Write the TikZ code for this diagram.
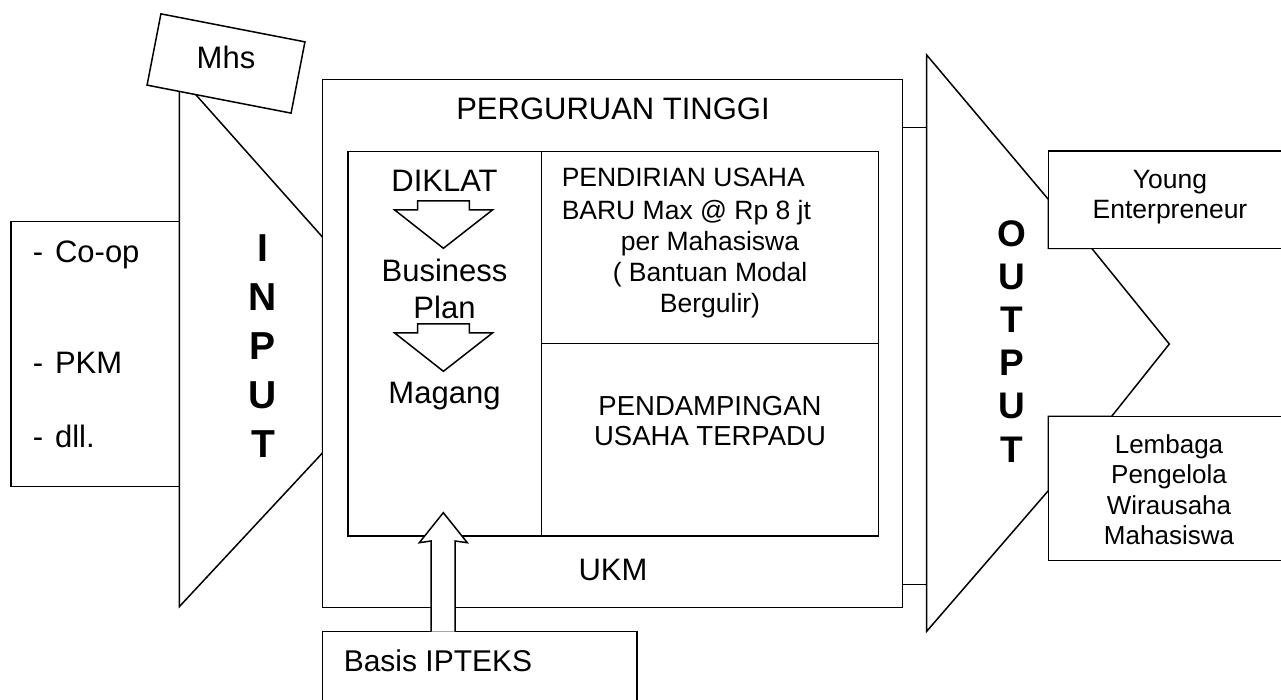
\documentclass[tikz,border=0pt]{standalone}
\usepackage{fontspec}
\setmainfont{Liberation Sans}
\begin{document}
\begin{tikzpicture}[x=0.5pt,y=-0.5pt,line width=0.75pt,
  box/.style={draw,fill=white,inner sep=0pt,outer sep=0pt},
  txt/.style 2 args={inner sep=0pt,align=center,font=\fontsize{#1}{#2}\selectfont},
  word/.style={txt={15.5}{18.35},anchor=base},
  big/.style 2 args={inner sep=0pt,align=center,anchor=north,font=\bfseries\fontsize{#1}{#2}\selectfont}]
\clip (0,0) rectangle (1281,700);
\node[box,minimum width=84.15pt,minimum height=132.5pt] (list) at (95.15,354.2) {};
\draw[fill=white] (179.3,90) -- (179.3,606.7) -- (322.7,452.7) -- (322.7,237.3) -- (194.3,93) -- cycle;
\node[box,minimum width=73.35pt,minimum height=36.3pt,rotate=-11] (mhsbox) at (226,63.5) {};
\node[word] (mhs) at (226,68.5) {Mhs};
\node[box,minimum width=290pt,minimum height=264.2pt] (pt) at (612.7,343.5) {};
\node[box,minimum width=265.15pt,minimum height=192.15pt] (inner) at (613.15,343.85) {};
\draw (541.7,151.7) -- (541.7,536) (541.7,343.3) -- (878.3,343.3);
\foreach \dy in {0,123}
  \draw[fill=white] (417.7,201+\dy) -- (469.4,201+\dy) -- (469.4,210+\dy) -- (492.4,210+\dy)
    -- (443.4,248.3+\dy) -- (394.7,210+\dy) -- (417.7,210+\dy) -- cycle;
\node[box,minimum width=157.15pt,minimum height=44.3pt] (basis) at (479.85,676) {};
\draw[fill=white] (431,631.7) -- (431,541) -- (419.3,542.7) -- (443.3,512.7) -- (467.3,542.7) -- (455,541) -- (455,631.7);
\coordinate (outa) at (926.7,127.7);
\coordinate (outb) at (926.7,584.7);
\draw (pt.east |- outa) -- (outa);
\draw (pt.east |- outb) -- (outb);
\draw[fill=white] (926.7,55) -- (1048.3,199.3) -- (1048.3,248.3) -- (1091.7,248.3) -- (1169.3,344)
  -- (1111.7,416.3) -- (1048.3,416.3) -- (1048.3,490.7) -- (926.7,631.3) -- cycle;
\node[box,minimum width=125pt,minimum height=48.65pt,anchor=north west] (young) at (1048.3,151) {};
\node[box,minimum width=125pt,minimum height=72.2pt,anchor=north west] (lembaga) at (1048.3,416.3) {};
\node[word,anchor=base west] (coop) at (32,262.5) {-\hspace{6pt}Co-op};
\node[word,anchor=base west] (pkm) at (32,373.3) {-\hspace{6pt}PKM};
\node[word,anchor=base west] (dll) at (32,447.3) {-\hspace{6pt}dll.};
\node[big={19.5}{24.5}] (input) at (263,233.5) {I\\N\\P\\U\\T};
\node[word] (ptname) at (613,120) {PERGURUAN TINGGI};
\node[word] (diklat) at (444.5,191.7) {DIKLAT};
\node[txt={15.5}{18.35},anchor=north] (plan) at (444.5,258.3) {Business\\Plan};
\node[word] (magang) at (444.5,403.3) {Magang};
\node[txt={13.25}{16.5},align=left,anchor=north west] (usaha) at (561,167.2) {PENDIRIAN USAHA\\BARU Max @ Rp 8 jt};
\node[txt={13.25}{15.5},anchor=north] (modal) at (710,230.5) {per Mahasiswa\\( Bantuan Modal\\Bergulir)};
\node[txt={13.75}{15},anchor=north] (pendamping) at (710,395.2) {PENDAMPINGAN\\USAHA TERPADU};
\node[word] (ukm) at (613,580) {UKM};
\node[word,anchor=base west,font=\fontsize{15}{18}\selectfont] (ipteks) at (343,671) {Basis IPTEKS};
\node[big={18.5}{21.6}] (output) at (1011.7,219.5) {O\\U\\T\\P\\U\\T};
\node[txt={13.25}{15},anchor=north] (yname) at (1170,169.5) {Young\\Enterpreneur};
\node[txt={13}{15.25},anchor=north] (lname) at (1169,433.7) {Lembaga\\Pengelola\\Wirausaha\\Mahasiswa};
\end{tikzpicture}
\end{document}
